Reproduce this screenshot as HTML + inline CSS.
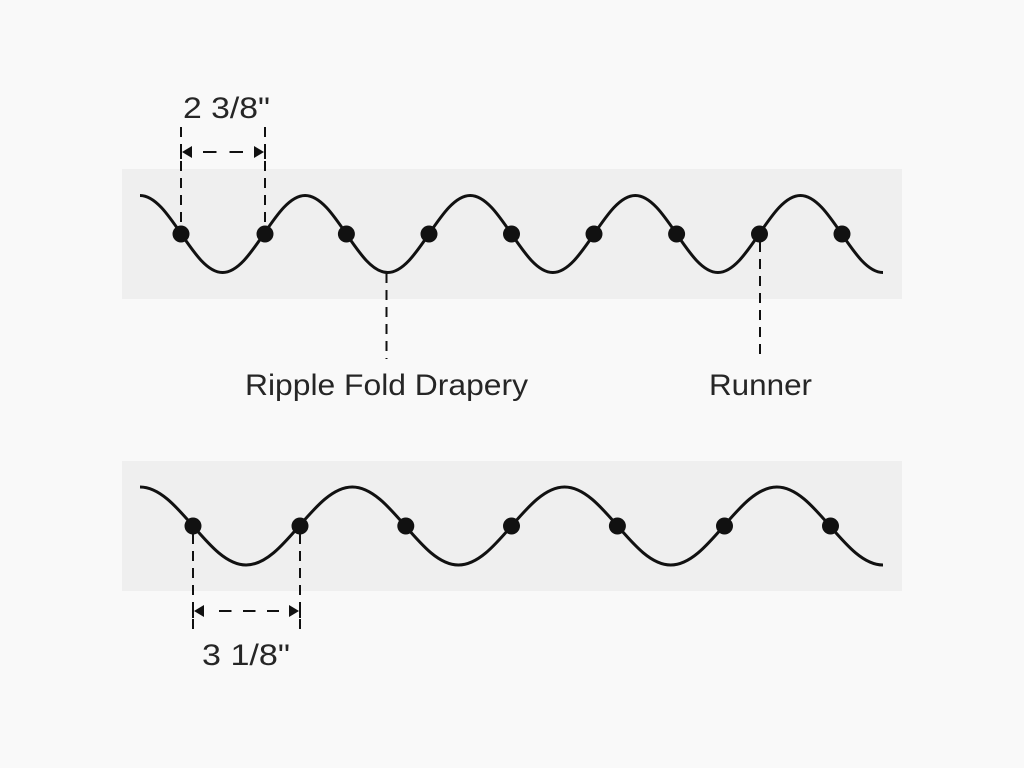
<!DOCTYPE html>
<html>
<head>
<meta charset="utf-8">
<style>
html,body{margin:0;padding:0;background:#f9f9f9;}
svg{display:block;}
text{font-family:"Liberation Sans",sans-serif;fill:#262626;}
</style>
</head>
<body>
<svg width="1024" height="768" viewBox="0 0 1024 768" xmlns="http://www.w3.org/2000/svg">
<rect x="0" y="0" width="1024" height="768" fill="#f9f9f9"/>
<rect x="122" y="169" width="780" height="130" fill="#efefef"/>
<rect x="122" y="461" width="780" height="130" fill="#efefef"/>

<!-- top wave -->
<path d="M140,195.5 C170.07,195.5 192.49,272.5 222.56,272.5 S275.04,195.5 305.11,195.5 S357.6,272.5 387.67,272.5 S440.15,195.5 470.22,195.5 S522.71,272.5 552.78,272.5 S605.26,195.5 635.33,195.5 S687.82,272.5 717.89,272.5 S770.37,195.5 800.44,195.5 S852.93,272.5 883,272.5" fill="none" stroke="#111" stroke-width="3"/>
<g fill="#111">
<circle cx="181" cy="234" r="8.5"/>
<circle cx="265" cy="234" r="8.5"/>
<circle cx="346.4" cy="234" r="8.5"/>
<circle cx="429" cy="234" r="8.5"/>
<circle cx="511.5" cy="234" r="8.5"/>
<circle cx="594" cy="234" r="8.5"/>
<circle cx="676.6" cy="234" r="8.5"/>
<circle cx="759.5" cy="234" r="8.5"/>
<circle cx="842" cy="234" r="8.5"/>
</g>

<!-- bottom wave -->
<path d="M140,487 C178.66,487 207.48,565 246.14,565 S313.63,487 352.29,487 S419.77,565 458.43,565 S525.91,487 564.57,487 S632.05,565 670.71,565 S738.2,487 776.86,487 S844.34,565 883,565" fill="none" stroke="#111" stroke-width="3"/>
<g fill="#111">
<circle cx="193" cy="526" r="8.5"/>
<circle cx="300" cy="526" r="8.5"/>
<circle cx="405.8" cy="526" r="8.5"/>
<circle cx="511.5" cy="526" r="8.5"/>
<circle cx="617.4" cy="526" r="8.5"/>
<circle cx="724.5" cy="526" r="8.5"/>
<circle cx="830.5" cy="526" r="8.5"/>
</g>

<!-- top dimension -->
<g stroke="#111" stroke-width="2" fill="none" stroke-dasharray="10 7">
<line x1="181" y1="127" x2="181" y2="234"/>
<line x1="265" y1="127" x2="265" y2="234"/>
</g>
<line x1="203" y1="152" x2="243" y2="152" stroke="#111" stroke-width="2" stroke-dasharray="13.5 13"/>
<line x1="181" y1="145" x2="181" y2="159" stroke="#111" stroke-width="2"/>
<line x1="265" y1="145" x2="265" y2="159" stroke="#111" stroke-width="2"/>
<polygon points="182,152 192,146 192,158" fill="#111"/>
<polygon points="264,152 254,146 254,158" fill="#111"/>
<text x="183" y="118" font-size="30" textLength="87" lengthAdjust="spacingAndGlyphs">2 3/8"</text>

<!-- leaders -->
<g stroke="#111" stroke-width="2" fill="none" stroke-dasharray="10 7">
<line x1="386.5" y1="273" x2="386.5" y2="359"/>
<line x1="760" y1="242" x2="760" y2="359"/>
</g>
<text x="245" y="395" font-size="30" textLength="283" lengthAdjust="spacingAndGlyphs">Ripple Fold Drapery</text>
<text x="709" y="395" font-size="30" textLength="103" lengthAdjust="spacingAndGlyphs">Runner</text>

<!-- bottom dimension -->
<g stroke="#111" stroke-width="2" fill="none" stroke-dasharray="10 7">
<line x1="193" y1="534" x2="193" y2="636"/>
<line x1="300" y1="534" x2="300" y2="636"/>
</g>
<line x1="219" y1="611" x2="279" y2="611" stroke="#111" stroke-width="2" stroke-dasharray="12.5 11.5"/>
<line x1="193" y1="604" x2="193" y2="618" stroke="#111" stroke-width="2"/>
<line x1="300" y1="604" x2="300" y2="618" stroke="#111" stroke-width="2"/>
<polygon points="194,611 204,605 204,617" fill="#111"/>
<polygon points="299,611 289,605 289,617" fill="#111"/>
<text x="202" y="665" font-size="30" textLength="88" lengthAdjust="spacingAndGlyphs">3 1/8"</text>
</svg>
</body>
</html>
